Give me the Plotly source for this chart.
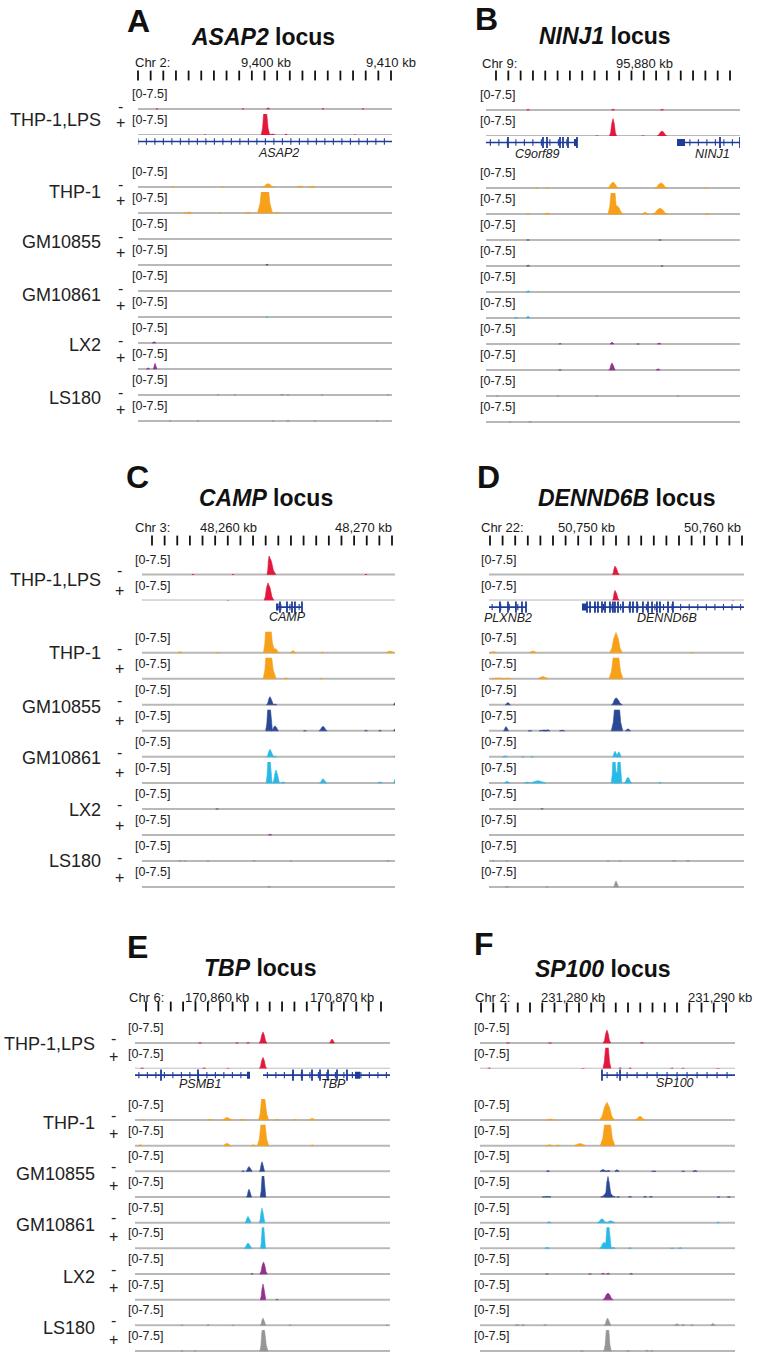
import numpy as np
import plotly.graph_objects as go

W, H = 757, 1356
FONT = "Liberation Sans, Arial, Helvetica, sans-serif"
TEXT_COLOR = "#1a1a1a"

# ---------------------------------------------------------------- data
CELL_LINES = ["THP-1,LPS", "THP-1", "GM10855", "GM10861", "LX2", "LS180"]
SIGNS = ["-", "+"]
TRACK_COLORS = ["#e3183c", "#f7a01a", "#2b4896", "#28b9e8", "#8e338e", "#969696"]
GENE_COLOR = "#1f3c98"
BASELINE_COLOR = "#b8b8b8"
DATA_RANGE_LABEL = "[0-7.5]"
DATA_MAX = 7.5

LOCI = ["ASAP2", "NINJ1", "CAMP", "DENND6B", "TBP", "SP100"]
PANEL_LETTERS = ["A", "B", "C", "D", "E", "F"]
CHROMS = ["Chr 2:", "Chr 9:", "Chr 3:", "Chr 22:", "Chr 6:", "Chr 2:"]
ANCHOR_KB = [9400, 95880, 48260, 50750, 170860, 231280]
RULER_LABEL_KB = [[9400, 9410], [95880], [48260, 48270], [50750, 50760],
                  [170860, 170870], [231280, 231290]]

# peaks per track: (position kb relative to ANCHOR_KB, height, half-width kb[, right half-width])
# track order: THP-1,LPS -, +, THP-1 -, +, GM10855 -, +, GM10861 -, +, LX2 -, +, LS180 -, +
ASAP2_PEAKS = [
    [(0.16, 0.6, 0.12), (-8.72, 0.2, 0.08), (-1.84, 0.2, 0.08), (4.56, 0.25, 0.08), (7.76, 0.2, 0.08)],
    [(-0.08, 11, 0.3, 0.38), (0.48, 0.5, 0.25), (1.6, 0.5, 0.1), (7.12, 0.2, 0.08), (-4.88, 0.2, 0.08)],
    [(0.16, 1.2, 0.45), (-7.44, 0.3, 0.1), (2.72, 0.5, 0.25), (3.68, 0.4, 0.25), (-3.52, 0.2, 0.1)],
    [(-0.08, 16, 0.6), (-6.24, 0.5, 0.3), (-3.68, 0.2, 0.1), (-1.44, 0.3, 0.2), (0.88, 0.4, 0.2)],
    [],
    [(0.08, 0.4, 0.1)],
    [],
    [(0.08, 0.2, 0.1)],
    [(-8.96, 0.6, 0.15)],
    [(-9.44, 0.6, 0.12), (-8.88, 2.0, 0.15)],
    [(-3.84, 0.25, 0.1), (-2.48, 0.2, 0.1), (1.28, 0.35, 0.15), (1.76, 0.2, 0.1), (4.48, 0.2, 0.1), (9.76, 0.3, 0.1)],
    [(-7.68, 0.2, 0.1), (-5.44, 0.2, 0.1), (0.56, 0.2, 0.1), (1.76, 0.35, 0.12), (3.92, 0.25, 0.1), (8.88, 0.2, 0.1)],
]
NINJ1_PEAKS = [
    [(-9.28, 0.4, 0.1), (-2.48, 0.5, 0.12), (1.44, 0.4, 0.12)],
    [(-2.48, 6.2, 0.28), (1.44, 1.8, 0.4), (-0.08, 0.2, 0.1), (-3.76, 0.15, 0.1)],
    [(-2.48, 2.1, 0.45), (1.36, 1.8, 0.5), (-8.56, 0.2, 0.1), (-7.76, 0.2, 0.1), (4.96, 0.15, 0.1)],
    [(-2.48, 12, 0.4), (-2.16, 3, 0.5), (1.28, 2.1, 0.6), (0.08, 0.6, 0.25), (-9.28, 0.4, 0.15),
     (-7.76, 0.5, 0.2), (5.04, 0.3, 0.15)],
    [(-9.28, 0.2, 0.1), (1.28, 0.15, 0.1)],
    [(-9.28, 0.4, 0.12), (1.44, 0.2, 0.1)],
    [(-9.28, 0.6, 0.15)],
    [(-10.24, 0.3, 0.12), (-9.28, 0.7, 0.15)],
    [(-6.72, 0.3, 0.1), (-2.56, 0.7, 0.15), (-0.48, 0.15, 0.1), (1.2, 0.5, 0.15)],
    [(-2.56, 2.5, 0.25), (1.12, 0.6, 0.15), (-6.72, 0.2, 0.1)],
    [(-11.76, 0.25, 0.1), (-6.88, 0.2, 0.1), (-3.76, 0.2, 0.1), (2.72, 0.25, 0.1)],
    [(-10.72, 0.15, 0.1), (-9.12, 0.3, 0.12)],
]
CAMP_PEAKS = [
    [(3.04, 6.6, 0.15, 0.5), (-2.59, 0.15, 0.08), (0.37, 0.15, 0.08), (10.22, 0.15, 0.08)],
    [(2.96, 6.3, 0.3, 0.45), (0.0, 0.15, 0.08)],
    [(2.93, 16, 0.3, 0.55), (3.5, 1.5, 0.3), (-3.56, 0.5, 0.2), (4.81, 0.7, 0.2), (6.96, 0.25, 0.1),
     (12.0, 0.6, 0.3), (-0.74, 0.15, 0.1)],
    [(2.96, 14, 0.35, 0.6), (4.3, 0.4, 0.15), (6.89, 0.3, 0.1)],
    [(3.11, 2.9, 0.25), (3.48, 0.4, 0.12), (12.37, 0.8, 0.1)],
    [(3.04, 12, 0.25), (3.48, 1.8, 0.25), (7.04, 1.6, 0.3), (5.7, 0.2, 0.1), (10.22, 0.3, 0.1),
     (11.26, 0.25, 0.1), (12.37, 0.7, 0.1)],
    [(3.11, 2.7, 0.25), (3.48, 0.3, 0.12), (12.37, 0.5, 0.1)],
    [(3.04, 12, 0.22), (3.56, 4.6, 0.25), (4.07, 0.4, 0.15), (7.04, 1.5, 0.25), (11.26, 0.5, 0.15),
     (12.37, 1.3, 0.1)],
    [(-0.81, 0.15, 0.1)],
    [(3.11, 0.4, 0.12)],
    [(-3.56, 0.3, 0.12), (-3.19, 0.2, 0.1), (-1.48, 0.15, 0.1), (1.93, 0.25, 0.1), (4.67, 0.15, 0.1),
     (11.85, 0.3, 0.1)],
    [(3.04, 0.5, 0.12)],
]
DENND6B_PEAKS = [
    [(2.30, 3.0, 0.2, 0.35)],
    [(2.30, 3.6, 0.2, 0.35), (11.67, 0.15, 0.08)],
    [(2.38, 7.2, 0.5), (-7.38, 0.5, 0.3), (-4.21, 0.6, 0.3), (8.41, 0.15, 0.1)],
    [(2.38, 12, 0.55), (-7.0, 0.4, 0.5), (-6.3, 0.3, 0.3), (-3.41, 0.8, 0.4)],
    [(-6.2, 0.8, 0.2), (2.38, 2.5, 0.35, 0.5)],
    [(2.46, 14, 0.45), (3.33, 0.7, 0.2), (-6.35, 1.5, 0.2), (-3.41, 0.4, 0.3), (-3.1, 0.5, 0.25),
     (-1.9, 0.3, 0.2), (-4.44, 0.2, 0.15)],
    [(-6.43, 0.5, 0.2), (2.3, 2.0, 0.2), (2.6, 1.8, 0.2), (-5.0, 0.15, 0.1), (-4.3, 0.15, 0.1)],
    [(2.22, 12, 0.22), (2.62, 12, 0.22), (2.42, 4, 0.2), (3.33, 2.0, 0.3), (-6.27, 0.6, 0.2),
     (-4.68, 0.4, 0.2), (-3.8, 0.8, 0.6), (5.87, 0.3, 0.1)],
    [(-3.49, 0.2, 0.1)],
    [],
    [(-7.38, 0.4, 0.1), (-6.27, 0.3, 0.1), (1.75, 0.2, 0.1), (2.7, 0.15, 0.1), (7.0, 0.3, 0.15),
     (8.1, 0.3, 0.15)],
    [(-6.27, 0.4, 0.15), (-3.1, 0.2, 0.1), (2.38, 2.2, 0.2)],
]
TBP_PEAKS = [
    [(3.68, 3.9, 0.3), (9.2, 1.4, 0.2), (-1.36, 0.2, 0.1), (1.6, 0.2, 0.1), (2.48, 0.3, 0.1)],
    [(3.68, 4.0, 0.3), (-6.0, 0.5, 0.15), (-1.04, 0.5, 0.15), (0.88, 0.3, 0.1)],
    [(3.68, 10, 0.35, 0.45), (0.8, 0.9, 0.4), (-0.56, 0.3, 0.2), (2.0, 0.3, 0.2), (7.6, 0.6, 0.25),
     (6.24, 0.3, 0.15), (4.8, 0.3, 0.15), (-5.92, 0.2, 0.1)],
    [(3.68, 11, 0.45), (0.8, 0.9, 0.3), (-6.16, 0.5, 0.2), (2.88, 0.4, 0.2), (7.6, 0.3, 0.15)],
    [(2.56, 1.7, 0.25), (3.6, 3.4, 0.2), (2.08, 0.3, 0.1)],
    [(3.68, 10, 0.22), (2.56, 2.8, 0.2)],
    [(2.48, 2.2, 0.25), (3.6, 5.2, 0.22)],
    [(3.68, 10, 0.2), (2.48, 1.9, 0.3)],
    [(3.72, 4.3, 0.3), (2.8, 0.3, 0.1)],
    [(3.68, 5.6, 0.22), (4.8, 0.2, 0.1)],
    [(3.68, 2.6, 0.22), (-0.72, 0.4, 0.1), (-2.8, 0.2, 0.1), (5.84, 0.2, 0.1), (13.6, 0.2, 0.1),
     (1.28, 0.15, 0.1)],
    [(3.68, 9.5, 0.25, 0.4), (-2.8, 0.3, 0.1), (-1.76, 0.2, 0.1)],
]
SP100_PEAKS = [
    [(2.31, 4.6, 0.25), (-4.42, 0.2, 0.1), (-1.56, 0.15, 0.1), (4.69, 0.3, 0.1)],
    [(2.31, 10, 0.28), (-5.71, 0.5, 0.1), (3.2, 0.6, 0.1), (3.88, 0.5, 0.1), (6.73, 0.4, 0.1),
     (7.48, 0.3, 0.1), (9.86, 0.2, 0.1), (0.68, 0.2, 0.1)],
    [(2.31, 6.3, 0.5), (-1.56, 0.5, 0.25), (4.56, 1.3, 0.35)],
    [(2.35, 12, 0.5), (0.48, 0.8, 0.4), (-1.63, 0.4, 0.25), (-1.02, 0.3, 0.15)],
    [(2.04, 0.7, 0.2), (2.38, 0.5, 0.15), (2.99, 0.6, 0.15), (-1.7, 0.4, 0.1), (8.3, 0.4, 0.15),
     (5.5, 0.2, 0.15), (7.5, 0.2, 0.1)],
    [(2.38, 7.3, 0.22), (2.38, 1.8, 0.5), (-1.8, 0.3, 0.3), (3.88, 0.3, 0.1), (4.9, 0.3, 0.1),
     (5.3, 0.3, 0.1), (3.07, 0.2, 0.1), (9.9, 0.2, 0.1), (10.6, 0.2, 0.1)],
    [(1.97, 1.4, 0.3), (2.55, 0.7, 0.3), (-1.63, 0.5, 0.15), (9.86, 0.3, 0.1)],
    [(2.38, 10, 0.22), (2.11, 2.2, 0.3), (2.72, 0.5, 0.15), (-1.77, 0.5, 0.15), (3.88, 0.3, 0.1),
     (7.28, 0.4, 0.1), (6.73, 0.2, 0.1)],
    [(2.04, 0.4, 0.1), (2.38, 0.5, 0.1), (3.95, 0.3, 0.1), (-1.77, 0.15, 0.1), (1.16, 0.15, 0.1)],
    [(2.38, 2.4, 0.35)],
    [(2.35, 2.6, 0.22), (-3.8, 0.4, 0.15), (-3.4, 0.4, 0.1), (-1.9, 0.4, 0.1), (7.07, 0.6, 0.15),
     (7.48, 0.5, 0.1), (9.52, 0.7, 0.15), (8.09, 0.3, 0.1)],
    [(2.35, 10, 0.25), (3.74, 0.3, 0.1), (5.03, 0.4, 0.1), (5.37, 0.3, 0.1), (0.61, 0.2, 0.1)],
]

# genes: positions in kb relative to ANCHOR_KB
ASAP2_GENES = [dict(name="ASAP2", start=-10.6, end=10.4, exons=[], blocks=[], label=0.96)]
NINJ1_GENES = [
    dict(name="C9orf89", start=-12.64, end=-5.36, exons=[-10.88, -8.08, -7.76, -6.72, -6.48, -6.08, -5.36],
         blocks=[(-5.6, -5.36)], label=-8.56),
    dict(name="NINJ1", start=2.64, end=7.68, exons=[6.08, 7.68], blocks=[(2.64, 3.28)], label=5.44),
]
CAMP_GENES = [dict(name="CAMP", start=3.56, end=5.48, exons=[3.85, 4.37, 4.74, 4.96, 5.48],
                   blocks=[(3.56, 3.75)], label=4.44)]
DENND6B_GENES = [
    dict(name="PLXNB2", start=-7.8, end=-4.76, exons=[-6.83, -6.19, -5.56, -5.08, -4.76], blocks=[], label=-6.19),
    dict(name="DENND6B", start=-0.32, end=12.7,
         exons=[0.08, 0.32, 0.71, 0.95, 1.27, 1.51, 1.90, 2.14, 2.30, 2.54, 2.94, 3.49, 3.73, 4.05, 4.52,
                4.92, 5.24, 5.63, 5.87, 6.51, 6.90],
         blocks=[(-0.32, 0.08)], label=6.43),
]
TBP_GENES = [
    dict(name="PSMB1", start=-6.6, end=2.64, exons=[-4.48, -1.52], blocks=[(2.4, 2.64)], label=-1.36),
    dict(name="TBP", start=3.68, end=13.9, exons=[6.08, 6.8, 7.6, 8.24, 8.88, 9.6, 10.4],
         blocks=[(11.04, 11.44)], label=9.28),
]
SP100_GENES = [dict(name="SP100", start=1.97, end=11.1, exons=[1.97, 3.2], blocks=[], label=6.94)]

ALL_PEAKS = [ASAP2_PEAKS, NINJ1_PEAKS, CAMP_PEAKS, DENND6B_PEAKS, TBP_PEAKS, SP100_PEAKS]
ALL_GENES = [ASAP2_GENES, NINJ1_GENES, CAMP_GENES, DENND6B_GENES, TBP_GENES, SP100_GENES]

# ---------------------------------------------------------------- layout (pixels)
PANEL_LAYOUT = [
    dict(letter=(138, 21), title=(263, 37), track=(138, 392), anchor_px=266, ppk=12.5, ticks=(138, 391, 21),
         tick_top=72, ruler_y=62, chr_x=133, scale_x=130, b0=109, step=26, gene_dy=18.5,
         cell_x=103, sign_x=120, cell_dy=[11, 5, 3, 4, 2, 3], sign_dy=(-3, -12)),
    dict(letter=(487, 19), title=(605, 36), track=(486, 740), anchor_px=644, ppk=12.5, ticks=(496, 730, 20),
         tick_top=72, ruler_y=63, chr_x=480, scale_x=478, b0=110, step=26, gene_dy=18.5),
    dict(letter=(137, 477), title=(266, 498), track=(142, 395), anchor_px=228, ppk=13.5, ticks=(152, 392, 20),
         tick_top=537, ruler_y=528, chr_x=133, scale_x=133, b0=574.5, step=26.05, gene_dy=16.5,
         cell_x=103, sign_x=119, cell_dy=[5, 0, 2, 1.5, 1, 0], sign_dy=(-4, -10)),
    dict(letter=(488, 477), title=(627, 498), track=(489, 744), anchor_px=586, ppk=12.6, ticks=(490, 742, 21),
         tick_top=537, ruler_y=528, chr_x=479, scale_x=479, b0=574.5, step=26.05, gene_dy=17),
    dict(letter=(137, 947), title=(260, 968), track=(135, 390), anchor_px=217, ppk=12.5, ticks=(146, 381, 20),
         tick_top=1003, ruler_y=997, chr_x=127, scale_x=126, b0=1043, step=25.67, gene_dy=15,
         cell_x=97, sign_x=113, cell_dy=[1, 2.5, 2.5, 2.5, 2.5, 3], sign_dy=(-5, -12)),
    dict(letter=(484, 944), title=(603, 969), track=(480, 735), anchor_px=573, ppk=14.7, ticks=(481, 726, 21),
         tick_top=1004, ruler_y=997, chr_x=473, scale_x=472, b0=1043, step=25.67, gene_dy=14.5),
]

TRACK_H = 21.0      # px for DATA_MAX
PAD = 1.5           # px below baseline inside the axis domain
TICK_LEN = 7        # ruler tick height in px
# drawing profile of a coverage peak (fraction of half-width, fraction of height)
PEAK_PROFILE_X = [-1.0, -0.65, -0.35, 0.0, 0.35, 0.65, 1.0]
PEAK_PROFILE_Y = [0.0, 0.22, 0.72, 1.0, 0.72, 0.22, 0.0]


def xp(px):
    return px / W


def yp(py):
    return 1 - py / H


fig = go.Figure()
layout = dict(width=W, height=H, margin=dict(l=0, r=0, t=0, b=0), autosize=False,
              paper_bgcolor="white", plot_bgcolor="white", showlegend=False,
              font=dict(family=FONT, color=TEXT_COLOR))
annotations = []
counters = {"x": 0, "y": 0}


def new_axis(letter):
    counters[letter] += 1
    n = counters[letter]
    return (letter if n == 1 else f"{letter}{n}"), (f"{letter}axis" if n == 1 else f"{letter}axis{n}")


def ann(**kw):
    base = dict(showarrow=False, font=dict(family=FONT, size=12, color=TEXT_COLOR))
    base.update(kw)
    annotations.append(base)


def peak_polygons(peaks, anchor):
    xs, ys = [], []
    for p in peaks:
        pos, h, wl = p[0], p[1], p[2]
        wr = p[3] if len(p) > 3 else wl
        for fx, fy in zip(PEAK_PROFILE_X, PEAK_PROFILE_Y):
            xs.append(anchor + pos + fx * (wl if fx < 0 else wr))
            ys.append(h * fy)
        xs += [anchor + pos - wl, None]
        ys += [0, None]
    return xs, ys


for pi, spec in enumerate(PANEL_LAYOUT):
    anchor = ANCHOR_KB[pi]

    def to_kb(px, spec=spec, anchor=anchor):
        return anchor + (px - spec["anchor_px"]) / spec["ppk"]

    xid, xkey = new_axis("x")
    ryid, rykey = new_axis("y")
    x_range = [to_kb(spec["track"][0]), to_kb(spec["track"][1])]
    tick_vals = [to_kb(p) for p in np.linspace(spec["ticks"][0], spec["ticks"][1], spec["ticks"][2])]
    layout[xkey] = dict(domain=[xp(spec["track"][0]), xp(spec["track"][1])], range=x_range, anchor=ryid,
                        visible=False, fixedrange=True)
    layout[rykey] = dict(domain=[yp(spec["tick_top"] + TICK_LEN), yp(spec["tick_top"])], range=[0, 1],
                         visible=False, anchor=xid, fixedrange=True)
    # ruler ticks
    fig.add_trace(go.Scatter(x=tick_vals, y=[0.5] * len(tick_vals), xaxis=xid, yaxis=ryid, mode="markers",
                             marker=dict(symbol="line-ns", size=TICK_LEN, line=dict(color="#111111", width=1.8)),
                             cliponaxis=False, hoverinfo="skip"))

    # letter, title, ruler labels
    ann(text=f"<b>{PANEL_LETTERS[pi]}</b>", x=xp(spec["letter"][0]), y=yp(spec["letter"][1]),
        xref="paper", yref="paper", xanchor="center", yanchor="middle", font=dict(family=FONT, size=32, color="#111"))
    ann(text=f"<b><i>{LOCI[pi]}</i> locus</b>", x=xp(spec["title"][0]), y=yp(spec["title"][1]),
        xref="paper", yref="paper", xanchor="center", yanchor="middle", font=dict(family=FONT, size=23, color="#111"))
    ann(text=CHROMS[pi], x=xp(spec["chr_x"]), y=yp(spec["ruler_y"]), xref="paper", yref="paper",
        xanchor="left", yanchor="middle", font=dict(family=FONT, size=13, color=TEXT_COLOR))
    for kb in RULER_LABEL_KB[pi]:
        ann(text=f"{kb:,} kb", x=kb, y=yp(spec["ruler_y"]), xref=xid, yref="paper",
            xanchor="center", yanchor="middle", font=dict(family=FONT, size=13, color=TEXT_COLOR))

    baselines = []
    for ti in range(12):
        slot = ti if ti < 2 else ti + 1
        b = spec["b0"] + spec["step"] * slot
        baselines.append(b)
        yid, ykey = new_axis("y")
        layout[ykey] = dict(domain=[yp(b + PAD), yp(b - TRACK_H)], range=[-PAD * DATA_MAX / TRACK_H, DATA_MAX],
                            visible=False, anchor=xid, fixedrange=True)
        fig.add_trace(go.Scatter(x=x_range, y=[0, 0], xaxis=xid, yaxis=yid, mode="lines",
                                 line=dict(color=BASELINE_COLOR, width=2), hoverinfo="skip"))
        peaks = ALL_PEAKS[pi][ti]
        if peaks:
            xs, ys = peak_polygons(peaks, anchor)
            col = TRACK_COLORS[ti // 2]
            fig.add_trace(go.Scatter(x=xs, y=ys, xaxis=xid, yaxis=yid, mode="lines", fill="toself",
                                     fillcolor=col, line=dict(color=col, width=0.6), hoverinfo="skip"))
        ann(text=DATA_RANGE_LABEL, x=xp(spec["scale_x"]), y=yp(b - 15), xref="paper", yref="paper",
            xanchor="left", yanchor="middle", font=dict(family=FONT, size=12.5, color="#222"))

    # gene track
    b1 = baselines[1]
    gid, gkey = new_axis("y")
    layout[gkey] = dict(domain=[yp(b1 + 26), yp(b1)], range=[26, 0], visible=False, anchor=xid, fixedrange=True)
    gy = 6.5
    for g in ALL_GENES[pi]:
        s, e = anchor + g["start"], anchor + g["end"]
        fig.add_trace(go.Scatter(x=[s, e], y=[gy, gy], xaxis=xid, yaxis=gid, mode="lines",
                                 line=dict(color=GENE_COLOR, width=1.7), hoverinfo="skip"))
        chev = np.arange(g["start"] + 0.35, g["end"], 0.68) + anchor
        fig.add_trace(go.Scatter(x=chev, y=[gy] * len(chev), xaxis=xid, yaxis=gid, mode="markers",
                                 marker=dict(symbol="line-ns", size=4.5, line=dict(color=GENE_COLOR, width=1.1)),
                                 hoverinfo="skip"))
        if g["exons"]:
            ex = [anchor + v for v in g["exons"]]
            fig.add_trace(go.Scatter(x=ex, y=[gy] * len(ex), xaxis=xid, yaxis=gid, mode="markers",
                                     marker=dict(symbol="line-ns", size=8, line=dict(color=GENE_COLOR, width=1.8)),
                                     hoverinfo="skip"))
        for (bs, be) in g["blocks"]:
            fig.add_trace(go.Scatter(x=[anchor + bs, anchor + be], y=[gy, gy], xaxis=xid, yaxis=gid,
                                     mode="lines", line=dict(color=GENE_COLOR, width=7), hoverinfo="skip"))
        ann(text=f"<i>{g['name']}</i>", x=anchor + g["label"], y=spec["gene_dy"], xref=xid, yref=gid,
            xanchor="center", yanchor="middle", font=dict(family=FONT, size=12.5, color="#222"))

    # cell line labels (left column only)
    if "cell_x" in spec:
        for ci, name in enumerate(CELL_LINES):
            bm, bp = baselines[2 * ci], baselines[2 * ci + 1]
            ann(text=name, x=xp(spec["cell_x"]), y=yp(bm + spec["cell_dy"][ci]), xref="paper", yref="paper",
                xanchor="right", yanchor="middle", font=dict(family=FONT, size=18, color="#222"))
            ann(text=SIGNS[0], x=xp(spec["sign_x"]), y=yp(bm + spec["sign_dy"][0]), xref="paper", yref="paper",
                xanchor="center", yanchor="middle", font=dict(family=FONT, size=16, color="#222"))
            ann(text=SIGNS[1], x=xp(spec["sign_x"]), y=yp(bp + spec["sign_dy"][1]), xref="paper", yref="paper",
                xanchor="center", yanchor="middle", font=dict(family=FONT, size=16, color="#222"))

layout["annotations"] = annotations
fig.update_layout(**layout)
fig.write_html("out.html", config={"displayModeBar": False},
               post_script="document.body.style.margin='0';document.body.style.overflow='hidden';")
